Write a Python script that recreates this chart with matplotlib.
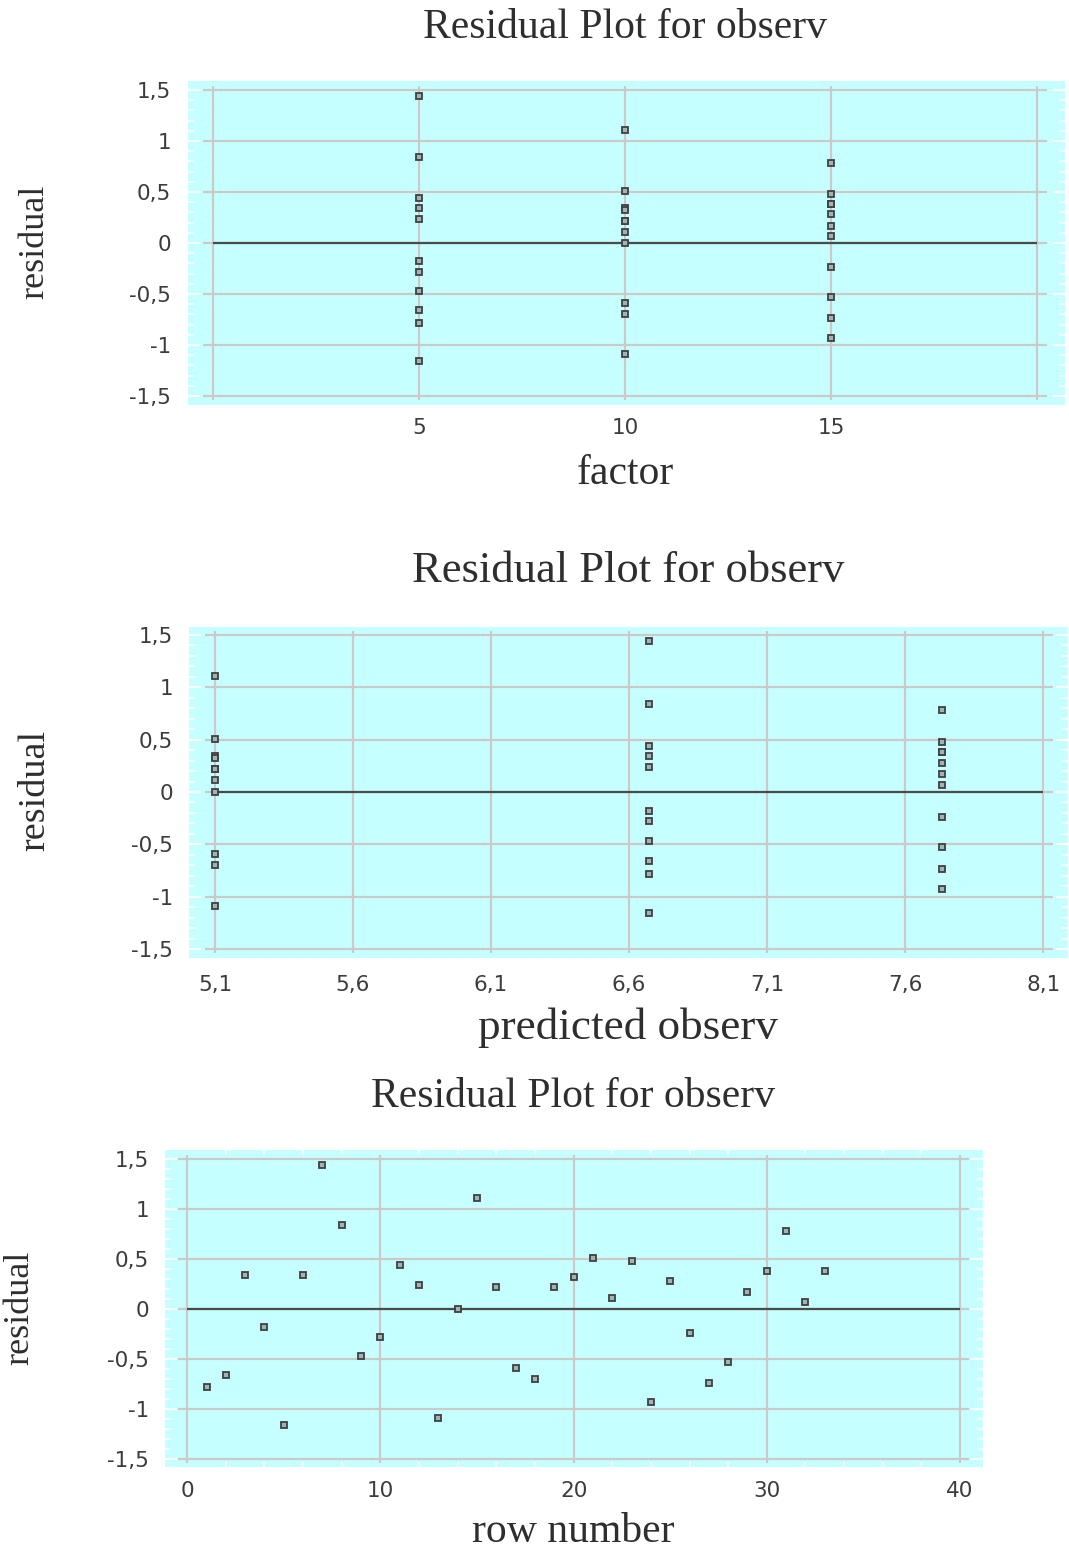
import matplotlib
matplotlib.use("Agg")
import matplotlib.pyplot as plt
from matplotlib.ticker import FuncFormatter, MultipleLocator

# ---------------- data ----------------
row_number = [1, 2, 3, 4, 5, 6, 7, 8, 9, 10, 11,
              12, 13, 14, 15, 16, 17, 18, 19, 20, 21, 22,
              23, 24, 25, 26, 27, 28, 29, 30, 31, 32, 33]
residual = [-0.78, -0.66, 0.34, -0.18, -1.16, 0.34, 1.44, 0.84, -0.47, -0.28, 0.44,
            0.24, -1.09, 0.00, 1.11, 0.22, -0.59, -0.70, 0.22, 0.32, 0.51, 0.11,
            0.48, -0.93, 0.28, -0.24, -0.74, -0.53, 0.17, 0.38, 0.78, 0.07, 0.38]
factor = [5, 5, 5, 5, 5, 10, 5, 5, 5, 5, 5,
          5, 10, 10, 10, 10, 10, 10, 10, 10, 10, 10,
          15, 15, 15, 15, 15, 15, 15, 15, 15, 15, 15]
factor_levels = [5, 10, 15]
level_prediction = [6.674, 5.1, 7.734]
predicted = [level_prediction[factor_levels.index(f)] for f in factor]

# axis ticks / grids
y_ticks = [-1.5, -1, -0.5, 0, 0.5, 1, 1.5]
factor_grid = [0, 5, 10, 15, 20]
factor_ticks = [5, 10, 15]
pred_ticks = [5.1, 5.6, 6.1, 6.6, 7.1, 7.6, 8.1]
row_ticks = [0, 10, 20, 30, 40]

title_text = "Residual Plot for observ"

# ---------------- style ----------------
CYAN = "#c6ffff"
GRID = "#cdc9c9"
ZERO = "#4a4a4a"
TXT = "#2e2e2e"
TICK = "#3c3c3c"
SERIF = "Liberation Serif"
SANS = "DejaVu Sans"

W, H = 1069, 1549
fig = plt.figure(figsize=(W / 100, H / 100), dpi=100)


def ax_at(l, t, r, b):
    return fig.add_axes([l / W, 1 - b / H, (r - l) / W, (b - t) / H])


def fmt(v, pos=None):
    return ("%g" % round(v, 4)).replace(".", ",")


def panel(ax, x, y, xlim, ylim, xgrid, xticks, xpad, ypad, xminor=None):
    ax.set_facecolor(CYAN)
    for s in ax.spines.values():
        s.set_visible(False)
    ax.set_xlim(*xlim)
    ax.set_ylim(*ylim)
    span = xgrid[-1] - xgrid[0]
    ext = 0.012 * span
    ax.hlines(y_ticks, xgrid[0] - ext, xgrid[-1] + ext, color=GRID, lw=1.6, zorder=1)
    ax.vlines(xgrid, y_ticks[0] - 0.04, y_ticks[-1] + 0.04, color=GRID, lw=1.6, zorder=1)
    ax.hlines(0, xgrid[0], xgrid[-1], color=ZERO, lw=1.6, zorder=2)
    ax.plot(x, y, ls="none", marker="s", ms=5, mfc="#9fb5b5", mec="#404040",
            mew=1.3, zorder=3)
    ax.set_xticks(xticks)
    ax.set_yticks(y_ticks)
    ax.xaxis.set_major_formatter(FuncFormatter(fmt))
    ax.yaxis.set_major_formatter(FuncFormatter(fmt))
    ax.yaxis.set_minor_locator(MultipleLocator(0.1))
    ax.tick_params(axis="y", which="major", direction="in", length=8.5, width=1.4,
                   color="white", left=True, right=True, pad=ypad,
                   labelsize=15.5, labelcolor=TICK)
    ax.tick_params(axis="y", which="minor", direction="in", length=4.5, width=1.1,
                   color="white", left=True, right=True)
    ax.tick_params(axis="x", which="major", length=0, pad=xpad,
                   labelsize=15.5, labelcolor=TICK)
    if xminor is not None:
        ax.xaxis.set_minor_locator(MultipleLocator(xminor))
        ax.tick_params(axis="x", which="minor", direction="in", length=3.5,
                       width=1.1, color="white", top=True, bottom=True)
    for lab in ax.get_xticklabels() + ax.get_yticklabels():
        lab.set_fontfamily(SANS)


def ftext(x, y, s, size, rot=0):
    fig.text(x / W, 1 - y / H, s, ha="center", va="center", rotation=rot,
             fontfamily=SERIF, fontsize=size, color=TXT)


# ---- panel 1: residual vs factor ----
ax1 = ax_at(188, 81, 1065, 405)
panel(ax1, factor, residual, (-0.61, 20.68), (-1.588, 1.588),
      factor_grid, factor_ticks, xpad=9, ypad=12)
ftext(625, 28, title_text, 30)
ftext(625, 474, "factor", 30)
ftext(35, 242, "residual", 26, rot=90)

# ---- panel 2: residual vs predicted ----
ax2 = ax_at(189, 627, 1068, 958)
panel(ax2, predicted, residual, (5.006, 8.19), (-1.586, 1.576),
      pred_ticks, pred_ticks, xpad=12.5, ypad=11.5)
ftext(628, 571, title_text, 32)
ftext(628, 1028, "predicted observ", 32.5)
ftext(35, 790, "residual", 27.5, rot=90)

# ---- panel 3: residual vs row number ----
ax3 = ax_at(165, 1150, 983, 1467)
panel(ax3, row_number, residual, (-1.15, 41.19), (-1.58, 1.59),
      row_ticks, row_ticks, xpad=10, ypad=11.5, xminor=2)
ftext(573, 1097, title_text, 30)
ftext(573, 1532, "row number", 30)
ftext(20, 1308, "residual", 26, rot=90)

fig.savefig("out.png", dpi=100)
